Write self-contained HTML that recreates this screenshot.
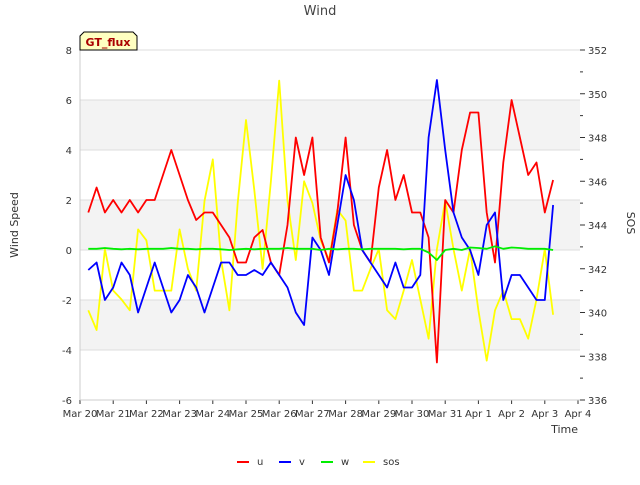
<!DOCTYPE html>
<html><head><meta charset="utf-8"><style>
body{margin:0;background:#fff;font-family:"Liberation Sans","DejaVu Sans",sans-serif}
svg text{font-family:"DejaVu Sans","Liberation Sans",sans-serif}
</style></head><body>
<svg id="c" width="640" height="480" xmlns="http://www.w3.org/2000/svg"></svg>
<script>
const days=[0.25,0.5,0.75,1,1.25,1.5,1.75,2,2.25,2.5,2.75,3,3.25,3.5,3.75,4,4.25,4.5,4.75,5,5.25,5.5,5.75,6,6.25,6.5,6.75,7,7.25,7.5,7.75,8,8.25,8.5,8.75,9,9.25,9.5,9.75,10,10.25,10.5,10.75,11,11.25,11.5,11.75,12,12.25,12.5,12.75,13,13.25,13.5,13.75,14,14.25];
const uVals=[1.5,2.5,1.5,2.0,1.5,2.0,1.5,2.0,2.0,3.0,4.0,3.0,2.0,1.2,1.5,1.5,1.0,0.5,-0.5,-0.5,0.5,0.8,-0.5,-1.0,1.0,4.5,3.0,4.5,0.5,-0.5,1.5,4.5,1.0,0.0,-0.5,2.5,4.0,2.0,3.0,1.5,1.5,0.5,-4.5,2.0,1.5,4.0,5.5,5.5,1.5,-0.5,3.5,6.0,4.5,3.0,3.5,1.5,2.8];
const vVals=[-0.8,-0.5,-2.0,-1.5,-0.5,-1.0,-2.5,-1.5,-0.5,-1.5,-2.5,-2.0,-1.0,-1.5,-2.5,-1.5,-0.5,-0.5,-1.0,-1.0,-0.8,-1.0,-0.5,-1.0,-1.5,-2.5,-3.0,0.5,0.0,-1.0,1.0,3.0,2.0,0.0,-0.5,-1.0,-1.5,-0.5,-1.5,-1.5,-1.0,4.5,6.8,4.0,1.5,0.5,0.0,-1.0,1.0,1.5,-2.0,-1.0,-1.0,-1.5,-2.0,-2.0,1.8];
const wVals=[0.05,0.05,0.08,0.05,0.03,0.05,0.03,0.05,0.05,0.05,0.08,0.05,0.05,0.03,0.05,0.05,0.03,0.0,0.03,0.05,0.03,0.05,0.05,0.05,0.08,0.05,0.05,0.05,0.0,0.05,0.03,0.05,0.05,0.03,0.05,0.05,0.05,0.05,0.03,0.05,0.05,-0.1,-0.4,0.0,0.05,0.0,0.1,0.08,0.05,0.15,0.05,0.1,0.08,0.05,0.05,0.05,0.0];
const sosVals=[340.1,339.2,342.9,341,340.6,340.1,343.8,343.3,341,341,341,343.8,342,341,345.1,347,342.4,340.1,345,348.8,345.6,342,346,350.6,345.1,342.4,346,345,343.3,342.4,344.7,344.2,341,341,342,342.9,340.1,339.7,341,342.4,340.6,338.8,342.9,345.1,342.9,341,342.9,340.1,337.8,340.1,341,339.7,339.7,338.8,340.6,342.9,339.9];
const xTicks=["Mar 20","Mar 21","Mar 22","Mar 23","Mar 24","Mar 25","Mar 26","Mar 27","Mar 28","Mar 29","Mar 30","Mar 31","Apr 1","Apr 2","Apr 3","Apr 4"];
const yTicks=[-6,-4,-2,0,2,4,6,8];
const y2Ticks=[336,338,340,342,344,346,348,350,352];

const L=80,R=580,T=50,B=400;
const X=d=>L+d*(R-2-L)/15;
const Y=v=>T+(8-v)*(B-T)/14;
const Y2=v=>T+(352-v)*(B-T)/16;
const svg=document.getElementById('c');
const NS='http://www.w3.org/2000/svg';
function mk(tag,attrs,name,txt){const e=document.createElementNS(NS,tag);for(const k in attrs)e.setAttribute(k,attrs[k]);


if(txt!==undefined)e.textContent=txt;svg.appendChild(e);return e;}
mk('rect',{x:L,y:T,width:R-L,height:B-T,fill:'#fff'},'plot-area');
[[6,4],[2,0],[-2,-4]].forEach(b=>mk('rect',{x:L,y:Y(b[0]),width:R-L,height:Y(b[1])-Y(b[0]),fill:'#f3f3f3'},'band'));
yTicks.forEach(v=>{mk('line',{x1:L,x2:R,y1:Y(v),y2:Y(v),stroke:'#dcdcdc'},'grid-line');
mk('text',{x:L-8,y:Y(v)+4,'text-anchor':'end','font-size':10,fill:'#333'},'y-tick-label',String(v));});
y2Ticks.forEach(v=>{mk('line',{x1:R,x2:R+5,y1:Y2(v),y2:Y2(v),stroke:'#333'},'y2-tick');
mk('text',{x:R+8,y:Y2(v)+4,'font-size':10,fill:'#333'},'y2-tick-label',String(v));});
for(let v=337;v<352;v+=2)mk('line',{x1:R,x2:R+3,y1:Y2(v),y2:Y2(v),stroke:'#333'},'y2-minor-tick');
xTicks.forEach((t,i)=>{mk('line',{x1:X(i),x2:X(i),y1:B,y2:B+4,stroke:'#333'},'x-tick');
mk('text',{x:X(i),y:B+17,'text-anchor':'middle','font-size':10,fill:'#333'},'x-tick-label',t);});
mk('line',{x1:L,x2:L,y1:T,y2:B,stroke:'#ccc'},'y-axis');
mk('line',{x1:L,x2:R,y1:B,y2:B,stroke:'#ccc'},'x-axis');
function line(vals,fy,col,name){mk('polyline',{points:vals.map((v,i)=>X(days[i]).toFixed(1)+','+fy(v).toFixed(1)).join(' '),fill:'none',stroke:col,'stroke-width':1.8,'stroke-linejoin':'round'},name);}
line(sosVals,Y2,'#ffff00','series-sos');
line(uVals,Y,'#ff0000','series-u');
line(vVals,Y,'#0000ff','series-v');
line(wVals,Y,'#00ee00','series-w');
mk('text',{x:320,y:15,'text-anchor':'middle','font-size':13,fill:'#444'},'chart-title','Wind');
mk('text',{x:578,y:433,'text-anchor':'end','font-size':11,fill:'#333'},'x-axis-title','Time');
mk('text',{x:18,y:225,'text-anchor':'middle','font-size':11,fill:'#333',transform:'rotate(-90 18 225)'},'y-axis-title','Wind Speed');
mk('text',{x:627,y:223,'text-anchor':'middle','font-size':11,fill:'#333',transform:'rotate(90 627 223)'},'y2-axis-title','SOS');
mk('path',{d:'M80,50 L80,36 L84,32 L133,32 L137,36 L137,50 Z',fill:'#ffffc0',stroke:'#000'},'site-label-box');
mk('text',{x:108,y:46,'text-anchor':'middle','font-size':11,'font-weight':'bold',fill:'#aa0000'},'site-label','GT_flux');
[['u','#ff0000',237],['v','#0000ff',279],['w','#00ee00',321],['sos','#ffff00',363]].forEach(l=>{
mk('line',{x1:l[2],x2:l[2]+12,y1:462,y2:462,stroke:l[1],'stroke-width':2},'legend-swatch-'+l[0]);
mk('text',{x:l[2]+20,y:465,'font-size':10,fill:'#333'},'legend-label-'+l[0],l[0]);});
</script>
</body></html>
